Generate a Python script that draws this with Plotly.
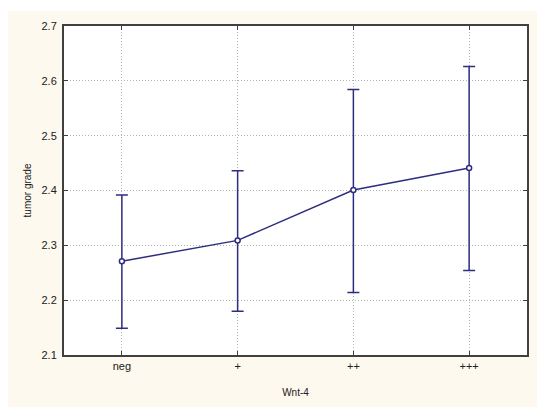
import plotly.graph_objects as go

categories = ["neg", "+", "++", "+++"]
means = [2.271, 2.309, 2.401, 2.441]
upper = [2.392, 2.436, 2.584, 2.626]
lower = [2.149, 2.180, 2.214, 2.254]

err_plus = [u - m for u, m in zip(upper, means)]
err_minus = [m - l for m, l in zip(means, lower)]

navy = "#2E2E80"
xs = list(range(len(categories)))
font_family = "Liberation Sans, Arial, sans-serif"

fig = go.Figure()
fig.add_trace(go.Scatter(
    x=xs, y=means, mode="lines+markers",
    line=dict(color=navy, width=1.5),
    marker=dict(symbol="circle", size=5, color="white", line=dict(color=navy, width=1.5)),
    error_y=dict(type="data", symmetric=False, array=err_plus, arrayminus=err_minus,
                 color=navy, thickness=1.5, width=6),
    showlegend=False,
))

# cream panel behind everything
fig.add_shape(type="rect", xref="paper", yref="paper",
              x0=-0.123, x1=1.0216, y0=-0.157, y1=1.0453,
              fillcolor="#FDF9EE", line=dict(width=0), layer="below")
# white plotting area
fig.add_shape(type="rect", xref="paper", yref="paper",
              x0=0, x1=1, y0=0, y1=1,
              fillcolor="white", line=dict(width=0), layer="below")

axis_common = dict(
    showline=True, linecolor="#404040", linewidth=2, mirror="ticks",
    ticks="inside", ticklen=4, tickcolor="#404040", tickwidth=1,
    showgrid=True, gridcolor="#B4B4B4", griddash="1px,2px", gridwidth=1,
    zeroline=False,
    tickfont=dict(family=font_family, size=11, color="#202020"),
)

fig.update_xaxes(
    **axis_common,
    range=[-0.5, 3.5],
    tickmode="array", tickvals=xs, ticktext=categories,
    title=dict(text="Wnt-4", font=dict(family=font_family, size=10, color="#202020"), standoff=18),
)
fig.update_yaxes(
    **axis_common,
    range=[2.1, 2.7], dtick=0.1, tickformat=".1f",
    ticklabelstandoff=3,
    title=dict(text="tumor grade", font=dict(family=font_family, size=10, color="#202020"), standoff=8),
)

fig.update_layout(
    width=542, height=408,
    margin=dict(l=56, r=23, t=16, b=61),
    paper_bgcolor="white", plot_bgcolor="white",
)

fig.write_html("out.html")
